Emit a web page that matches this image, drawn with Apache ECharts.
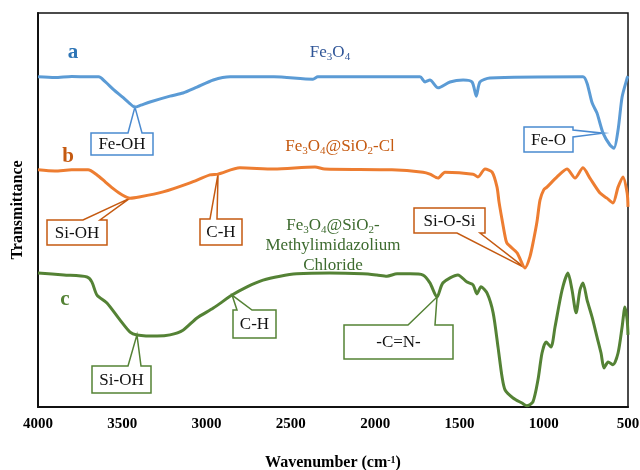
<!DOCTYPE html>
<html>
<head>
<meta charset="utf-8">
<script src="https://cdn.jsdelivr.net/npm/echarts@6/dist/echarts.min.js"></script>
<style>
  html, body { margin: 0; padding: 0; background: #fff; }
  #main { width: 640px; height: 470px; }
</style>
</head>
<body>
<div id="main"></div>
<script>
// FTIR spectra, offset vertically (transmittance, arbitrary units 0-100)
var xTicks = [4000, 3500, 3000, 2500, 2000, 1500, 1000, 500];

// a: Fe3O4
var aWn = [4000, 3900, 3800, 3700, 3640, 3600, 3550, 3500, 3460, 3425, 3390, 3336, 3217, 3140, 3057, 2960, 2860, 2600, 2369, 2340, 1734, 1704, 1675, 1627, 1556, 1478, 1425, 1400, 1378, 1319, 767, 743, 713, 684, 648, 607, 583, 559, 535, 505, 500];
var aT  = [83.8, 83.6, 83.9, 83.8, 83.8, 82.5, 80.5, 78.7, 77.2, 76.1, 76.6, 77.4, 78.9, 79.7, 81.2, 83.0, 83.8, 83.8, 83.2, 83.8, 83.8, 82.5, 83.0, 81.0, 82.5, 83.0, 82.5, 78.9, 82.5, 83.5, 83.8, 82.2, 77.2, 74.6, 69.5, 66.5, 65.7, 70.3, 78.7, 83.5, 84.0];

// b: Fe3O4@SiO2-Cl
var bWn = [4000, 3900, 3800, 3703, 3650, 3600, 3550, 3500, 3454, 3400, 3258, 3098, 2980, 2932, 2802, 2600, 2357, 2300, 1900, 1716, 1675, 1627, 1586, 1419, 1390, 1348, 1306, 1277, 1265, 1247, 1230, 1218, 1158, 1111, 1082, 1060, 1040, 1022, 1000, 981, 921, 862, 814, 767, 726, 666, 625, 589, 559, 530, 505, 500];
var bT  = [60.2, 59.9, 60.2, 60.2, 58.9, 57.1, 55.3, 53.8, 53.0, 53.3, 54.6, 56.9, 58.9, 59.1, 60.7, 60.4, 60.9, 60.4, 60.2, 59.6, 59.1, 58.1, 59.6, 59.1, 58.4, 60.4, 59.6, 55.8, 52.0, 47.5, 43.5, 41.6, 39.1, 35.3, 38.1, 42.4, 47.0, 52.5, 55.1, 55.8, 58.4, 60.4, 58.1, 60.7, 58.1, 54.3, 53.0, 51.8, 55.8, 58.4, 54.3, 50.8];

// c: Fe3O4@SiO2-Methylimidazolium Chloride
var cWn = [4000, 3846, 3709, 3680, 3650, 3591, 3514, 3454, 3413, 3294, 3217, 3140, 3057, 2960, 2849, 2760, 2665, 2564, 2465, 2269, 2072, 1990, 1930, 1870, 1793, 1716, 1675, 1633, 1598, 1509, 1455, 1419, 1396, 1372, 1336, 1300, 1271, 1247, 1229, 1182, 1129, 1100, 1064, 1034, 1010, 986, 957, 933, 891, 856, 832, 808, 785, 767, 743, 713, 684, 660, 642, 618, 589, 559, 535, 518, 505, 500];
var cT  = [34.0, 33.5, 33.0, 31.7, 28.4, 26.4, 22.1, 19.0, 18.3, 18.0, 18.3, 19.5, 22.6, 25.1, 28.4, 30.5, 32.2, 33.2, 33.8, 34.0, 33.8, 33.5, 33.2, 33.8, 33.8, 33.5, 31.5, 27.9, 31.5, 33.5, 31.7, 31.0, 28.7, 30.5, 28.9, 23.9, 15.2, 7.6, 4.3, 2.3, 1.0, 0.3, 1.3, 6.9, 13.7, 16.5, 15.2, 20.3, 29.7, 34.0, 29.7, 23.9, 29.7, 31.5, 27.2, 22.8, 17.8, 13.7, 9.9, 11.4, 10.7, 13.7, 20.3, 25.4, 22.1, 18.3];

// peak assignments: label, series, wavenumber
var peakLabels = ['Fe-OH', 'Fe-O', 'Si-OH', 'C-H', 'Si-O-Si', 'Si-OH', 'C-H', '-C=N-'];
var peakSeries = ['a', 'a', 'b', 'b', 'b', 'c', 'c', 'c'];
var peakWn     = [3425, 648, 3454, 2932, 1111, 3413, 2849, 1633];

var FONT = 'Liberation Serif';
var colors = {a: '#5B9BD5', b: '#ED7D31', c: '#548235'};
var boxColors = {a: '#4A8AD0', b: '#C55A11', c: '#548235'};
var textColors = {a: '#2F5597', b: '#C55A11', c: '#3D6B2F'};
var letterColors = {a: '#2E75B6', b: '#C55A11', c: '#548235'};

// callout boxes (pixels): x, y, w, h, side of pointer, pointer base start/end
var boxLayout = [
  {x: 91, y: 133, w: 62, h: 22, side: 'top', g: [128, 142]},
  {x: 524, y: 127, w: 49, h: 25, side: 'right', g: [130, 137]},
  {x: 47, y: 220, w: 60, h: 25, side: 'top', g: [83, 100]},
  {x: 200, y: 219, w: 42, h: 26, side: 'top', g: [210, 217]},
  {x: 414, y: 208, w: 71, h: 25, side: 'bottom', g: [457, 480]},
  {x: 92, y: 366, w: 59, h: 27, side: 'top', g: [128, 141]},
  {x: 233, y: 310, w: 43, h: 28, side: 'top', g: [237, 252]},
  {x: 344, y: 325, w: 109, h: 34, side: 'top', g: [408, 435]}
];

function pairs(wn, t) {
  var out = [];
  for (var i = 0; i < wn.length; i++) out.push([wn[i], t[i]]);
  return out;
}
var dataMap = {a: pairs(aWn, aT), b: pairs(bWn, bT), c: pairs(cWn, cT)};

function valueAt(key, wn) {
  var d = dataMap[key];
  for (var i = 0; i < d.length - 1; i++) {
    var x0 = d[i][0], x1 = d[i + 1][0];
    if (wn <= x0 && wn >= x1) {
      var t = (x0 - wn) / (x0 - x1);
      return d[i][1] + t * (d[i + 1][1] - d[i][1]);
    }
  }
  return d[d.length - 1][1];
}

var myChart = echarts.init(document.getElementById('main'));

function mkSeries(key) {
  return {
    name: key,
    type: 'line',
    data: dataMap[key],
    showSymbol: false,
    smooth: 0.25,
    lineStyle: {color: colors[key], width: 3},
    z: 5
  };
}

var option = {
  animation: false,
  backgroundColor: '#fff',
  grid: {
    left: 38, right: 12, top: 13, bottom: 63,
    outerBoundsMode: 'none', containLabel: false,
    show: true, borderColor: '#111', borderWidth: 1.5
  },
  xAxis: {
    type: 'value', min: 500, max: 4000, interval: 500, inverse: true,
    axisLine: {show: true, onZero: false, lineStyle: {color: '#111', width: 2}},
    axisTick: {show: false},
    splitLine: {show: false},
    axisLabel: {
      color: '#000', fontFamily: FONT, fontWeight: 'bold', fontSize: 15, margin: 10,
      formatter: function (v) { return xTicks.indexOf(v) >= 0 ? String(v) : ''; }
    },
    name: 'Wavenumber (cm{sup|-1})',
    nameLocation: 'middle',
    nameGap: 48,
    nameTextStyle: {
      color: '#000', fontFamily: FONT, fontWeight: 'bold', fontSize: 16,
      rich: {sup: {fontFamily: FONT, fontWeight: 'bold', fontSize: 10, verticalAlign: 'top', color: '#000'}}
    }
  },
  yAxis: {
    type: 'value', min: 0, max: 100,
    axisLine: {show: true, lineStyle: {color: '#111', width: 2}},
    axisTick: {show: false},
    axisLabel: {show: false},
    splitLine: {show: false},
    name: 'Transmittance',
    nameLocation: 'middle',
    nameRotate: 90,
    nameGap: 12,
    nameTextStyle: {color: '#000', fontFamily: FONT, fontWeight: 'bold', fontSize: 16}
  },
  series: [mkSeries('a'), mkSeries('b'), mkSeries('c')]
};
myChart.setOption(option);

function calloutPoints(b, anchor) {
  var x = b.x, y = b.y, w = b.w, h = b.h, g = b.g;
  if (b.side === 'top') {
    return [[x, y + h], [x, y], [g[0], y], anchor, [g[1], y], [x + w, y], [x + w, y + h]];
  } else if (b.side === 'bottom') {
    return [[x, y], [x + w, y], [x + w, y + h], [g[1], y + h], anchor, [g[0], y + h], [x, y + h]];
  }
  return [[x, y], [x + w, y], [x + w, g[0]], anchor, [x + w, g[1]], [x + w, y + h], [x, y + h]];
}

var richStyle = function (size, color) {
  return {
    n: {fontFamily: FONT, fontSize: size, fill: color, lineHeight: 20},
    s: {fontFamily: FONT, fontSize: Math.round(size * 0.65), fill: color, lineHeight: 20, verticalAlign: 'bottom'}
  };
};

var graphics = [];
for (var i = 0; i < peakLabels.length; i++) {
  var key = peakSeries[i];
  var anchor = myChart.convertToPixel({gridIndex: 0}, [peakWn[i], valueAt(key, peakWn[i])]);
  var b = boxLayout[i];
  graphics.push({
    type: 'polygon',
    z: 1,
    shape: {points: calloutPoints(b, anchor)},
    style: {fill: '#fff', stroke: boxColors[key], lineWidth: 1.5}
  });
  graphics.push({
    type: 'text', z: 10,
    x: b.x + b.w / 2, y: b.y + b.h / 2 + 1,
    style: {text: peakLabels[i], fill: '#111', fontFamily: FONT, fontSize: 17, align: 'center', verticalAlign: 'middle'}
  });
}

// series letters
var letters = [['a', 73, 53], ['b', 68, 157], ['c', 65, 300]];
letters.forEach(function (l) {
  graphics.push({
    type: 'text', z: 10, x: l[1], y: l[2],
    style: {text: l[0], fill: letterColors[l[0]], fontFamily: FONT, fontWeight: 'bold', fontSize: 21, align: 'center', verticalAlign: 'middle'}
  });
});

// sample names
graphics.push({
  type: 'text', z: 10, x: 330, y: 53,
  style: {text: '{n|Fe}{s|3}{n|O}{s|4}', rich: richStyle(17, textColors.a), align: 'center', verticalAlign: 'middle'}
});
graphics.push({
  type: 'text', z: 10, x: 340, y: 147,
  style: {text: '{n|Fe}{s|3}{n|O}{s|4}{n|@SiO}{s|2}{n|-Cl}', rich: richStyle(17, textColors.b), align: 'center', verticalAlign: 'middle'}
});
graphics.push({
  type: 'text', z: 10, x: 333, y: 246,
  style: {text: '{n|Fe}{s|3}{n|O}{s|4}{n|@SiO}{s|2}{n|-}\n{n|Methylimidazolium}\n{n|Chloride}', rich: richStyle(17, textColors.c), align: 'center', verticalAlign: 'middle'}
});

myChart.setOption({graphic: graphics});
</script>
</body>
</html>
